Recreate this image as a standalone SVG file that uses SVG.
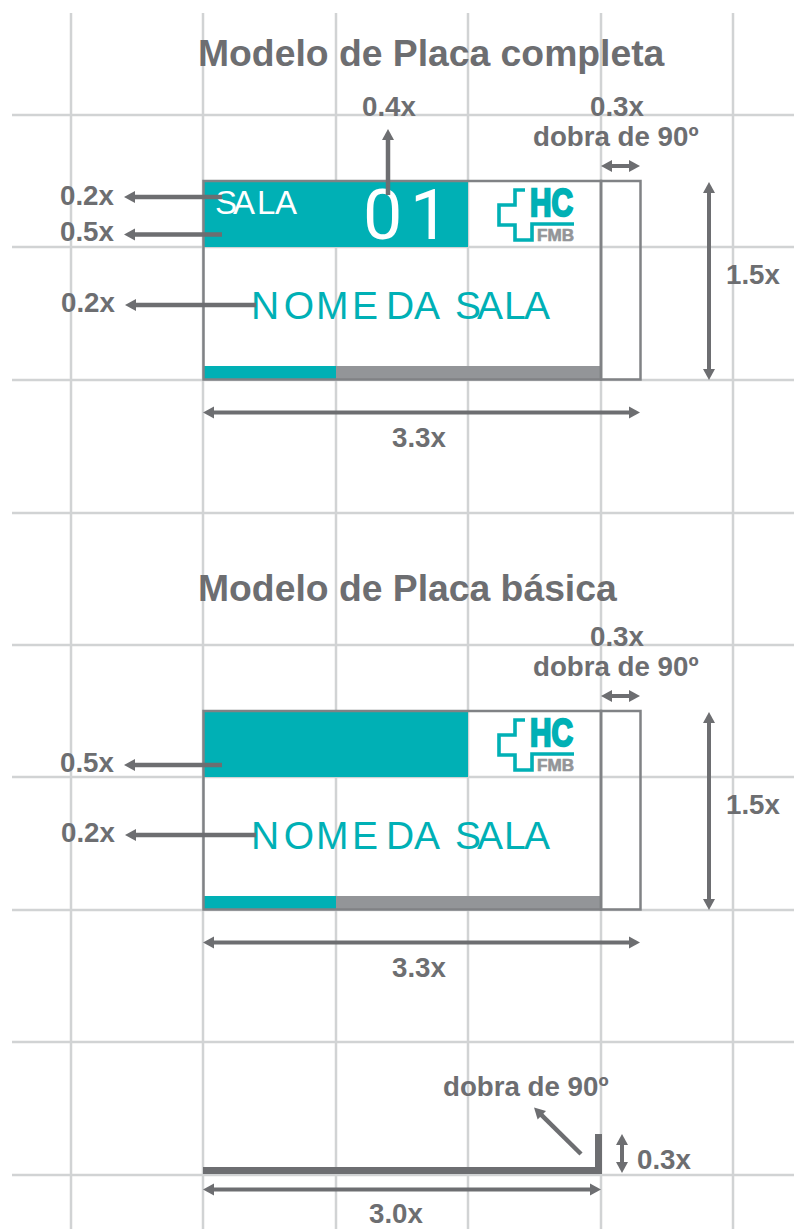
<svg xmlns="http://www.w3.org/2000/svg" width="794" height="1229" viewBox="0 0 794 1229">
<style>
text{font-family:"Liberation Sans",Arial,sans-serif}
.g{stroke:#d1d3d4;stroke-width:2.5;fill:none}
.l{font-weight:700;font-size:27.7px;fill:#6d6e71}
.t{font-weight:700;font-size:37.3px;fill:#6d6e71}
.n{font-size:39px;fill:#00b0b5}
.b{fill:none;stroke:#808285;stroke-width:2.5}
.teal{fill:#00b0b5}
.bar{fill:#939598}
.a{stroke:#6d6e71;stroke-width:4.500;fill:none;marker-end:url(#h)}
.d{stroke:#6d6e71;stroke-width:4;fill:none;marker-end:url(#h);marker-start:url(#h)}
.hc{font-weight:700;font-size:39px;fill:#00b0b5;stroke:#00b0b5;stroke-width:2.4}
.fmb{font-weight:700;font-size:16px;fill:#939598;stroke:#939598;stroke-width:.6}
.cross{fill:none;stroke:#00b0b5;stroke-width:3.6}
</style>
<defs>
<marker id="h" markerUnits="userSpaceOnUse" markerWidth="11" markerHeight="13" viewBox="0 0 11 13" refX="5" refY="6.500" orient="auto-start-reverse"><path d="M0,0.500L11,6.500L0,12.500z" fill="#6d6e71"/></marker>
<path id="crossShape" d="M525,190H515V205H499V225H515V240H532V224H574"/>
</defs>
<g id="grid" class="g">
<path d="M71,13V1229M203,13V1229M336,13V1229M468,13V1229M601,13V1229M733,13V1229"/>
<path d="M12,115H794M12,247H794M12,380H794M12,513H794M12,645H794M12,777H794M12,910H794M12,1042H794M12,1175H794"/>
</g>
<g id="placa-completa">
<rect class="teal" x="204" y="181" width="264" height="66"/>
<rect class="teal" x="204" y="366" width="132" height="13"/>
<rect class="bar" x="336" y="366" width="265" height="13"/>
<rect class="b" x="203.500" y="181" width="397.500" height="198.500"/>
<rect class="b" x="601" y="181" width="39.500" height="198.500"/>
<text x="215 233 257 275" y="214" font-size="33" fill="#fff">SALA</text>
<text x="363 410" y="238.500" font-size="70" fill="#fff" style="font-family:Roboto,sans-serif">01</text>
<text class="n" x="251 283.700 316 352 380 386 414 440 455 477 504 524" y="318.500">NOME DA SALA</text>
<g id="logo1"><use href="#crossShape" class="cross"/><text class="hc" x="530" y="216" textLength="43" lengthAdjust="spacingAndGlyphs">HC</text><text class="fmb" x="537" y="241" textLength="37" lengthAdjust="spacingAndGlyphs">FMB</text></g>
</g>
<g id="placa-basica">
<rect class="teal" x="204" y="711" width="264" height="66"/>
<rect class="teal" x="204" y="896" width="132" height="13"/>
<rect class="bar" x="336" y="896" width="265" height="13"/>
<rect class="b" x="203.500" y="711" width="397.500" height="198.500"/>
<rect class="b" x="601" y="711" width="39.500" height="198.500"/>
<text class="n" x="251 283.700 316 352 380 386 414 440 455 477 504 524" y="848.500">NOME DA SALA</text>
<g id="logo2"><use href="#crossShape" y="530" class="cross"/><text class="hc" x="530" y="746" textLength="43" lengthAdjust="spacingAndGlyphs">HC</text><text class="fmb" x="537" y="771" textLength="37" lengthAdjust="spacingAndGlyphs">FMB</text></g>
</g>
<g id="perfil" fill="#6d6e71">
<rect x="203" y="1167" width="399" height="7"/>
<rect x="595" y="1134" width="7" height="40"/>
</g>
<g id="connectors">
<path class="a" d="M388,195V135"/>
<path class="a" d="M222,197H130"/>
<path class="a" d="M222,234.500H130"/>
<path class="a" d="M256,305H131"/>
<path class="d" d="M607,166H634"/>
<path class="d" d="M709,188V374"/>
<path class="d" d="M209,412.500H634"/>
<path class="a" d="M222,765H130"/>
<path class="a" d="M256,835H131"/>
<path class="d" d="M607,696H634"/>
<path class="d" d="M709,718V904"/>
<path class="d" d="M209,942.500H634"/>
<path class="a" d="M581,1154L538.300,1111.800"/>
<path class="d" d="M622,1140V1167"/>
<path class="d" d="M209,1189.500H595"/>
</g>
<g id="labels">
<text class="t" x="198" y="66">Modelo de Placa completa</text>
<text class="l" x="362" y="116">0.4x</text>
<text class="l" x="590" y="116">0.3x</text>
<text class="l" x="533" y="146">dobra de 90º</text>
<text class="l" x="60" y="205">0.2x</text>
<text class="l" x="60" y="241">0.5x</text>
<text class="l" x="61" y="312">0.2x</text>
<text class="l" x="726" y="284">1.5x</text>
<text class="l" x="392" y="447">3.3x</text>
<text class="t" x="198" y="601">Modelo de Placa básica</text>
<text class="l" x="590" y="646">0.3x</text>
<text class="l" x="533" y="676">dobra de 90º</text>
<text class="l" x="60" y="772">0.5x</text>
<text class="l" x="61" y="842">0.2x</text>
<text class="l" x="726" y="814">1.5x</text>
<text class="l" x="392" y="977">3.3x</text>
<text class="l" x="443" y="1096">dobra de 90º</text>
<text class="l" x="637" y="1169">0.3x</text>
<text class="l" x="369" y="1223">3.0x</text>
</g>
</svg>
